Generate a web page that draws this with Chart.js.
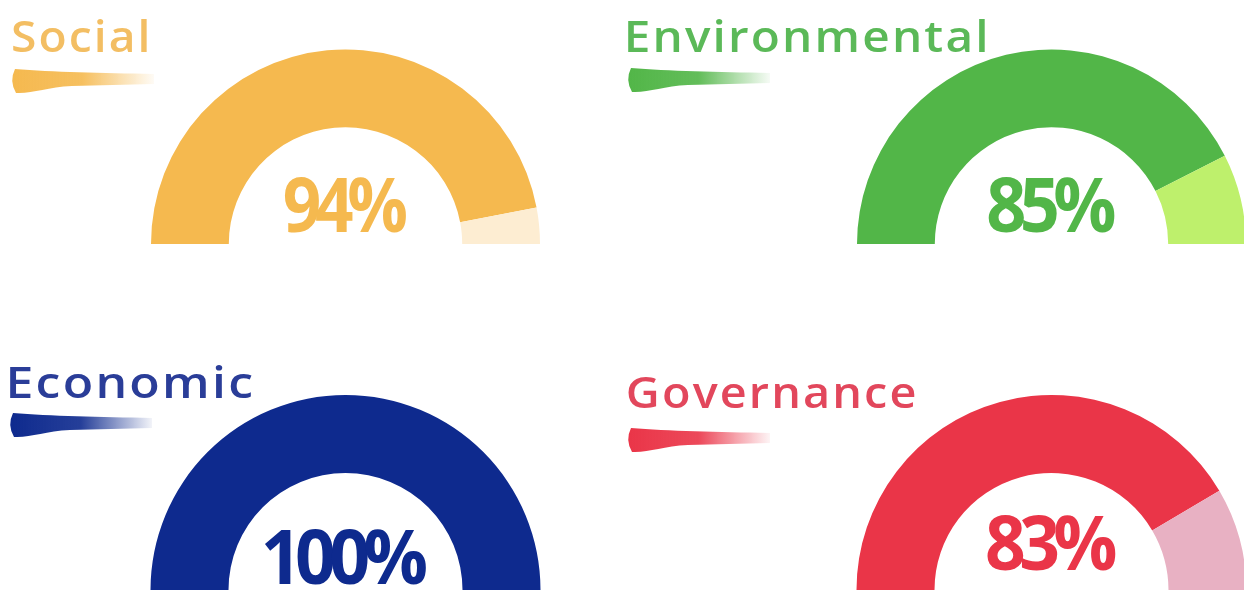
<!DOCTYPE html>
<html>
<head>
<meta charset="utf-8">
<script src="https://cdn.jsdelivr.net/npm/chart.js@4.4.1/dist/chart.umd.min.js"></script>
<style>
  html, body { margin: 0; padding: 0; background: #fff; overflow: hidden; }
  body { width: 1244px; height: 590px; position: relative; }
  canvas { position: absolute; left: 0; top: 0; }
</style>
</head>
<body>
<canvas id="g0" width="1250" height="590"></canvas>
<canvas id="g1" width="1250" height="590"></canvas>
<canvas id="g2" width="1250" height="590"></canvas>
<canvas id="g3" width="1250" height="590"></canvas>
<script>
// ESG scores
const categories = ['Social', 'Environmental', 'Economic', 'Governance'];
const scores = [94, 85, 100, 83];
const remainders = [6, 15, 0, 17];

const mainColors = ['#F5B94F', '#52B648', '#0E2A8E', '#EA3548'];
const restColors = ['#FDEDD2', '#BEF06C', '#0E2A8E', '#E8B1C3'];
const titleColors = ['#F3BE63', '#5BB958', '#2A3D98', '#E2475C'];

// where each gauge sits on the page (centre, radius) and its label positions
const layouts = [
  { cx: 345.5, cy: 244, r: 194.5, titleX: 13, titleY: 52, titleW: 134, brushX: 12, brushY: 80, pctY: 232, pctW: 122 },
  { cx: 1051.5, cy: 244, r: 194.5, titleX: 628, titleY: 52, titleW: 357, brushX: 628, brushY: 79, pctY: 232, pctW: 127 },
  { cx: 345.5, cy: 590, r: 195, titleX: 10, titleY: 398, titleW: 242, brushX: 10, brushY: 424, pctY: 584, pctW: 162 },
  { cx: 1051.5, cy: 590, r: 195, titleX: 628, titleY: 408, titleW: 287, brushX: 628, brushY: 439, pctY: 570, pctW: 129 },
];

function rgba(hex, a) {
  const n = parseInt(hex.slice(1), 16);
  return `rgba(${(n >> 16) & 255}, ${(n >> 8) & 255}, ${n & 255}, ${a})`;
}

// draws text squeezed/stretched so its ink covers `width` px starting at inkLeft
function fitText(ctx, text, inkLeft, y, width, spacing) {
  ctx.textAlign = 'left';
  ctx.textBaseline = 'alphabetic';
  ctx.letterSpacing = spacing + 'px';
  const m = ctx.measureText(text);
  const ink = m.actualBoundingBoxLeft + m.actualBoundingBoxRight;
  ctx.save();
  ctx.translate(inkLeft, y);
  ctx.scale(width / ink, 1);
  ctx.fillText(text, m.actualBoundingBoxLeft, 0);
  ctx.restore();
  ctx.letterSpacing = '0px';
}

// the painted brush stroke under each heading
function drawBrush(ctx, x, y, color) {
  const g = ctx.createLinearGradient(x, 0, x + 142, 0);
  g.addColorStop(0, rgba(color, 1));
  g.addColorStop(0.5, rgba(color, 0.9));
  g.addColorStop(1, rgba(color, 0.05));
  ctx.fillStyle = g;
  ctx.beginPath();
  ctx.moveTo(x + 3, y - 11);
  ctx.quadraticCurveTo(x - 3, y + 1, x + 4, y + 13);
  ctx.bezierCurveTo(x + 20, y + 14, x + 35, y + 7, x + 60, y + 6);
  ctx.lineTo(x + 142, y + 4);
  ctx.lineTo(x + 142, y - 6);
  ctx.bezierCurveTo(x + 90, y - 7, x + 40, y - 8, x + 3, y - 11);
  ctx.closePath();
  ctx.fill();
}

const gaugeText = {
  id: 'gaugeText',
  afterDraw(chart, args, opts) {
    const ctx = chart.ctx;
    const arc = chart.getDatasetMeta(0).data[0];
    const L = opts.layout;
    ctx.save();
    // heading
    ctx.fillStyle = opts.titleColor;
    ctx.font = '600 44px "Open Sans"';
    fitText(ctx, opts.title, L.titleX, L.titleY, L.titleW, 2);
    drawBrush(ctx, L.brushX, L.brushY, opts.color);
    // percentage in the middle of the gauge
    ctx.fillStyle = opts.color;
    ctx.font = '700 75px "Open Sans"';
    fitText(ctx, opts.value + '%', arc.x - L.pctW / 2, L.pctY, L.pctW, -7);
    ctx.restore();
  }
};

categories.forEach((name, i) => {
  const L = layouts[i];
  const ctx = document.getElementById('g' + i).getContext('2d');
  new Chart(ctx, {
    type: 'doughnut',
    data: {
      labels: ['Score', 'Remaining'],
      datasets: [{
        data: [scores[i], remainders[i]],
        backgroundColor: [mainColors[i], restColors[i]],
        borderWidth: 0,
      }],
    },
    options: {
      responsive: false,
      animation: false,
      rotation: -90,
      circumference: 180,
      cutout: '60%',
      layout: {
        padding: {
          left: L.cx - L.r,
          right: 1250 - (L.cx + L.r),
          top: L.cy - L.r,
          bottom: 590 - L.cy,
        },
      },
      plugins: {
        legend: { display: false },
        tooltip: { enabled: false },
        gaugeText: {
          title: name,
          value: scores[i],
          color: mainColors[i],
          titleColor: titleColors[i],
          layout: L,
        },
      },
    },
    plugins: [gaugeText],
  });
});
</script>
</body>
</html>
